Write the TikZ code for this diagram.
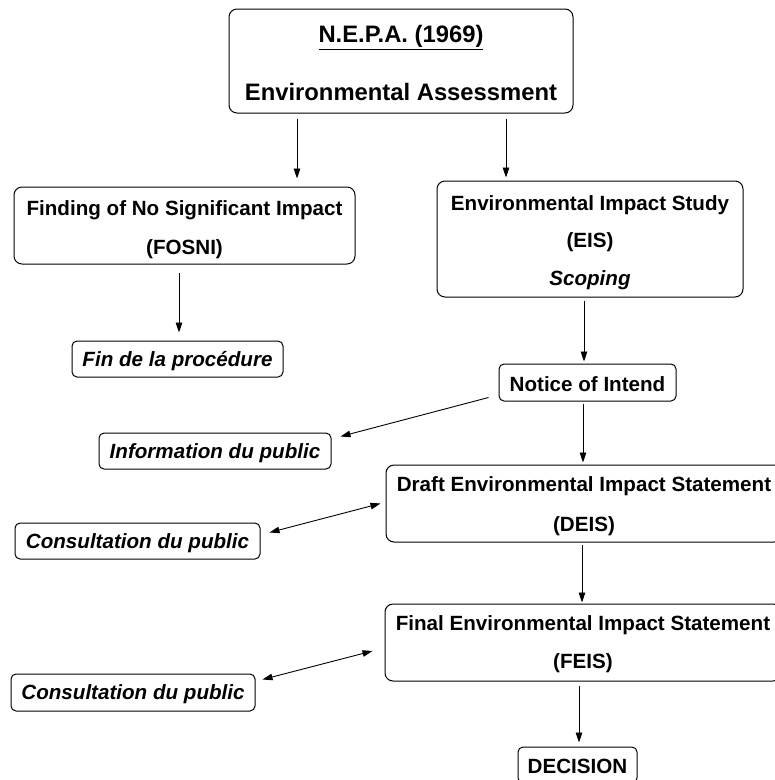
\documentclass[tikz,border=0pt]{standalone}
\usepackage{fontspec}
\setmainfont{Liberation Sans}
\usetikzlibrary{arrows.meta}
\tikzset{
  box/.style={draw, line width=1pt, rounded corners=8pt, inner sep=0pt},
  smallbox/.style={box, rounded corners=5pt},
  txt/.style={inner sep=0pt, align=center, font=\fontsize{20.6}{39}\selectfont\bfseries},
  arr/.style={line width=0.9pt, -{Triangle[length=10pt,width=6.5pt]}},
  darr/.style={line width=0.9pt, {Triangle[length=10pt,width=6.5pt]}-{Triangle[length=10pt,width=6.5pt]}}
}
\begin{document}
\begin{tikzpicture}[x=1pt,y=-1pt]
\useasboundingbox (0,0) rectangle (775,780);
\clip (0,0) rectangle (775,780);
% boxes
\node[box, minimum width=344pt, minimum height=104pt] (top) at (401,61) {};
\node[box, minimum width=341pt, minimum height=77pt] (fosni) at (184.5,225.5) {};
\node[smallbox, minimum width=211pt, minimum height=36pt] (fin) at (177.5,359) {};
\node[box, minimum width=306pt, minimum height=116pt] (eis) at (590,239) {};
\node[smallbox, minimum width=177pt, minimum height=37pt] (ni) at (587.5,382.5) {};
\node[smallbox, minimum width=232pt, minimum height=36pt] (info) at (215,451) {};
\node[box, minimum width=396pt, minimum height=77pt] (deis) at (584,503.5) {};
\node[smallbox, minimum width=245pt, minimum height=36pt] (c1) at (137.5,541) {};
\node[box, minimum width=396pt, minimum height=77pt] (feis) at (583,642.5) {};
\node[smallbox, minimum width=244pt, minimum height=37pt] (c2) at (133,692.5) {};
\node[smallbox, minimum width=119pt, minimum height=36pt] (dec) at (577.5,765) {};
% texts
\node[txt, font=\fontsize{23.8}{58}\selectfont\bfseries] (topT) at ([yshift=-2pt]top.center)
  {\underline{N.E.P.A. (1969)}\\Environmental Assessment};
\node[txt] (fosniT) at ([yshift=-4.5pt]fosni.center) {Finding of No Significant Impact\\(FOSNI)};
\node[txt] (finT) at ([yshift=-2pt]fin.center) {\itshape Fin de la procédure};
\node[txt, font=\fontsize{20.6}{37.5}\selectfont\bfseries] (eisT) at ([yshift=-3.5pt]eis.center)
  {Environmental Impact Study\\(EIS)\\\itshape Scoping};
\node[txt] (niT) at ([yshift=-1.5pt]ni.center) {Notice of Intend};
\node[txt] (infoT) at ([yshift=-2pt]info.center) {\itshape Information du public};
\node[txt, font=\fontsize{20.6}{40}\selectfont\bfseries] (deisT) at ([yshift=-3pt]deis.center)
  {Draft Environmental Impact Statement\\(DEIS)};
\node[txt] (c1T) at ([yshift=-2pt]c1.center) {\itshape Consultation du public};
\node[txt, font=\fontsize{20.6}{38}\selectfont\bfseries] (feisT) at ([yshift=-2pt]feis.center)
  {Final Environmental Impact Statement\\(FEIS)};
\node[txt] (c2T) at ([yshift=-2pt]c2.center) {\itshape Consultation du public};
\node[txt] (decT) at ([yshift=-1pt]dec.center) {DECISION};
% connectors
\draw[arr, shorten <=5pt, shorten >=8pt] (top.south -| 297,0) -- (fosni.north -| 297,0);
\draw[arr, shorten <=5pt, shorten >=3pt] (top.south -| 506,0) -- (eis.north -| 506,0);
\draw[arr, shorten <=8pt, shorten >=8pt] (fosni.south -| 179,0) -- (fin.north -| 179,0);
\draw[arr, shorten <=3pt, shorten >=2pt] (eis.south -| 584,0) -- (ni.north -| 584,0);
\draw[arr] ([shift={(-10,-4)}]ni.south west) -- ([shift={(9,4)}]info.north east);
\draw[arr, shorten <=2pt, shorten >=2pt] (ni.south -| 583,0) -- (deis.north -| 583,0);
\draw[darr] ([shift={(9,10)}]c1.north east) -- ([shift={(-5,0)}]deis.west);
\draw[arr, shorten <=2pt, shorten >=1pt] (deis.south -| 582,0) -- (feis.north -| 582,0);
\draw[darr] ([shift={(7,6)}]c2.north east) -- ([shift={(-12,8.5)}]feis.west);
\draw[arr, shorten <=4pt, shorten >=4pt] (feis.south -| 579,0) -- (dec.north -| 579,0);
\end{tikzpicture}
\end{document}
